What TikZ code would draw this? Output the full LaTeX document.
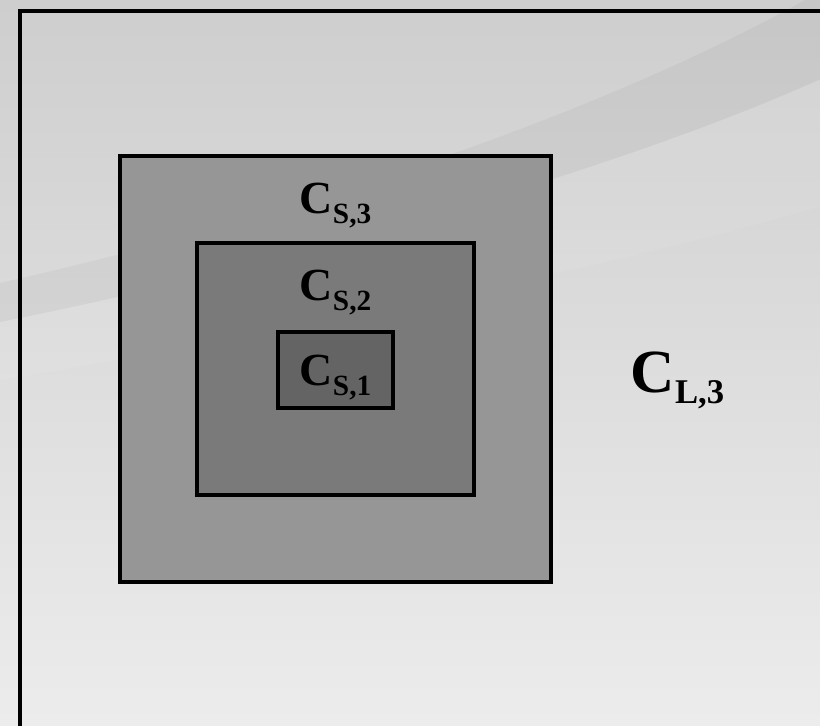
\documentclass[tikz,border=0pt]{standalone}
\usepackage{fontspec}
\setmainfont{Liberation Serif}
\definecolor{bgtop}{RGB}{206,206,206}
\definecolor{bgbot}{RGB}{236,236,236}
\definecolor{boxthree}{RGB}{150,150,150}
\definecolor{boxtwo}{RGB}{122,122,122}
\definecolor{boxone}{RGB}{100,100,100}
\newcommand{\clab}[4]{\bfseries{\fontsize{#1}{#1}\selectfont C}\raisebox{-#3}{\fontsize{#2}{#2}\selectfont #4}}
\begin{document}
\begin{tikzpicture}[x=0.75pt,y=-0.75pt,
  frame/.style={draw=black,line width=3pt},
  region/.style={draw=black,line width=2.8pt},
  lab/.style={anchor=base,inner sep=0pt,text=black}]
\useasboundingbox (0,0) rectangle (820,725);
\begin{scope}
\clip (0,0) rectangle (820,725);
\shade[top color=bgtop,bottom color=bgbot] (0,0) rectangle (820,725);
\fill[black,opacity=0.035] (0,283) .. controls (300,215) and (620,110) .. (840,-20)
   -- (840,70) .. controls (650,160) and (300,262) .. (0,322) -- cycle;
\fill[white,opacity=0.07] (0,322) .. controls (300,262) and (650,160) .. (840,70)
   -- (840,200) .. controls (650,260) and (300,330) .. (0,380) -- cycle;
\draw[frame] (20,11) rectangle (845,750);
\end{scope}
\draw[region,fill=boxthree] (120,156) rectangle (551,582);
\draw[region,fill=boxtwo] (197,243) rectangle (474,495);
\draw[region,fill=boxone] (278,332) rectangle (393,408);
\node[lab] (s3) at (335.5,213) {\clab{34.5pt}{22pt}{7.5pt}{S,3}};
\node[lab] (s2) at (335.5,300) {\clab{34.5pt}{22pt}{7.5pt}{S,2}};
\node[lab] (s1) at (335.5,385) {\clab{34.5pt}{22pt}{7.5pt}{S,1}};
\node[lab] (l3) at (677.5,392) {\clab{46pt}{26pt}{8.5pt}{L,3}};
\end{tikzpicture}
\end{document}
